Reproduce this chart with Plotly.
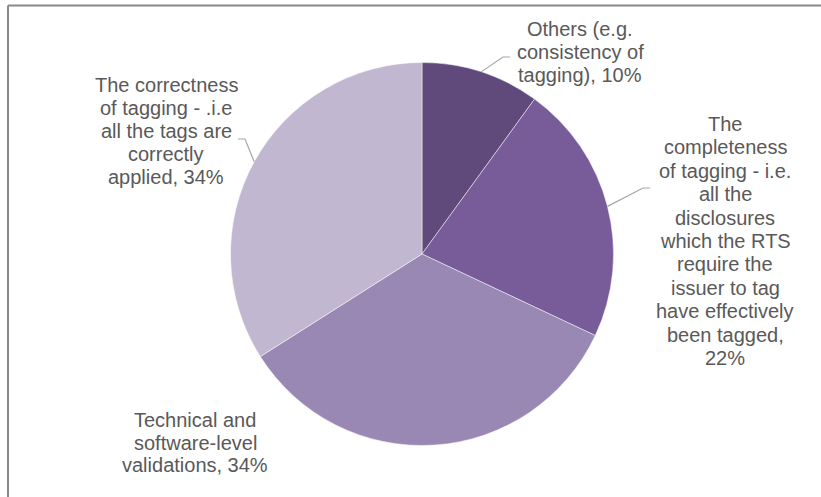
import math
import plotly.graph_objects as go

# ---- data ----
categories = [
    "Others (e.g. consistency of tagging)",
    "The completeness of tagging - i.e. all the disclosures which the RTS require the issuer to tag have effectively been tagged",
    "Technical and software-level validations",
    "The correctness of tagging - .i.e all the tags are correctly applied",
]
values = [10, 22, 34, 34]
label_lines = [
    ["Others (e.g.", "consistency of", "tagging), "],
    ["The", "completeness", "of tagging - i.e.", "all the", "disclosures",
     "which the RTS", "require the", "issuer to tag", "have effectively",
     "been tagged,", ""],
    ["Technical and", "software-level", "validations, "],
    ["The correctness", "of tagging - .i.e", "all the tags are", "correctly",
     "applied, "],
]
colors = ["#604A7B", "#775C99", "#9A88B4", "#C2B7D0"]

# ---- layout geometry (pixels) ----
W, H = 821, 497
CX, CY, R = 422, 254, 191.5
# label block: centre x, first-line y, line spacing
label_pos = [(580, 29, 23), (725, 124, 23.4), (195, 420, 22.5), (166, 85, 23)]
# leader lines: elbow point, end point (None = no leader)
leaders = [((503, 57), (510, 57)), ((643, 188), (650, 188)), None,
           ((245, 139), (238, 139))]


def px(x):
    return x / W


def py(y):
    return 1 - y / H


fig = go.Figure(go.Pie(
    labels=categories,
    values=values,
    sort=False,
    direction="clockwise",
    rotation=0,
    marker=dict(colors=colors, line=dict(color="rgba(255,255,255,0.6)", width=0.8)),
    textinfo="none",
    hoverinfo="label+percent",
    showlegend=False,
    domain=dict(x=[px(CX - R), px(CX + R)], y=[py(CY + R), py(CY - R)]),
))

total = sum(values)
annotations = []
shapes = []
cum = 0
for i, v in enumerate(values):
    pct = round(100 * v / total)
    lines = list(label_lines[i])
    lines[-1] = lines[-1] + f"{pct}%"
    cx, y0, dy = label_pos[i]
    for k, t in enumerate(lines):
        annotations.append(dict(
            x=px(cx), y=py(y0 + k * dy), xref="paper", yref="paper",
            text=t, showarrow=False, xanchor="center", yanchor="middle",
            font=dict(family="Arial, Liberation Sans", size=20, color="#595959"),
        ))
    mid = (cum + v / 2) / total * 2 * math.pi
    cum += v
    if leaders[i] is not None:
        sx = CX + R * math.sin(mid)
        sy = CY - R * math.cos(mid)
        (ex, ey), (fx, fy) = leaders[i]
        shapes.append(dict(
            type="path", xref="paper", yref="paper",
            path=f"M {px(sx)} {py(sy)} L {px(ex)} {py(ey)} L {px(fx)} {py(fy)}",
            line=dict(color="#A6A6A6", width=1.2),
        ))

# chart frame (top and left edges visible)
shapes.append(dict(type="line", xref="paper", yref="paper",
                   x0=px(8), y0=py(5.5), x1=1.02, y1=py(5.5),
                   line=dict(color="#898989", width=2)))
shapes.append(dict(type="line", xref="paper", yref="paper",
                   x0=px(8), y0=py(5.5), x1=px(8), y1=-0.02,
                   line=dict(color="#898989", width=2)))

fig.update_layout(
    width=W, height=H,
    margin=dict(l=0, r=0, t=0, b=0),
    paper_bgcolor="white",
    plot_bgcolor="white",
    annotations=annotations,
    shapes=shapes,
)

fig.write_html("out.html")
